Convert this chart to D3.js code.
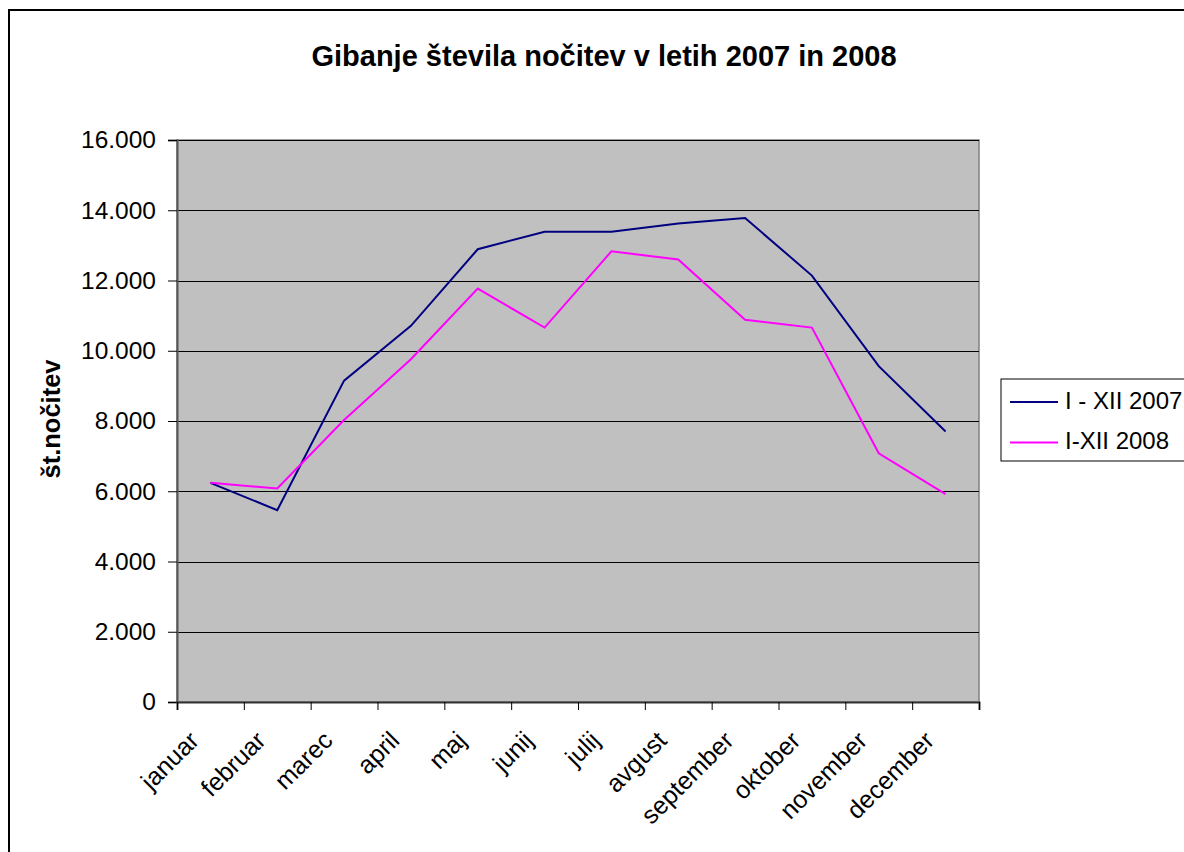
<!DOCTYPE html>
<html>
<head>
<meta charset="utf-8">
<script src="https://cdn.jsdelivr.net/npm/d3@7/dist/d3.min.js"></script>
<style>
  html, body { margin: 0; padding: 0; background: #fff; }
  svg { display: block; font-family: "Liberation Sans", Arial, sans-serif; }
</style>
</head>
<body>
<svg id="chart" width="1184" height="852"></svg>
<script>
const months = ["januar","februar","marec","april","maj","junij","julij","avgust","september","oktober","november","december"];
const series2007 = [6240, 5460, 9150, 10710, 12890, 13390, 13390, 13620, 13780, 12140, 9560, 7700];
const series2008 = [6240, 6080, 8030, 9760, 11770, 10660, 12830, 12600, 10880, 10660, 7080, 5920];
const yTicks = [0, 2000, 4000, 6000, 8000, 10000, 12000, 14000, 16000];
const seriesNames = ["I - XII 2007", "I-XII 2008"];
const seriesColors = ["#000080", "#ff00ff"];
const titleText = "Gibanje števila nočitev v letih 2007 in 2008";
const yAxisTitle = "št.nočitev";

const svg = d3.select("#chart");
const plot = { left: 177, top: 140, right: 979, bottom: 702 };

// outer chart frame
svg.append("rect").attr("x", 9).attr("y", 10).attr("width", 1200).attr("height", 900)
  .attr("fill", "#fff").attr("stroke", "#000").attr("stroke-width", 2);

const x = d3.scaleBand().domain(months).range([plot.left, plot.right]).paddingInner(0).paddingOuter(0);
const y = d3.scaleLinear().domain([0, 16000]).range([plot.bottom, plot.top]);

// plot background
svg.append("rect").attr("x", plot.left).attr("y", plot.top)
  .attr("width", plot.right - plot.left).attr("height", plot.bottom - plot.top)
  .attr("fill", "#c0c0c0").attr("stroke", "#808080").attr("stroke-width", 1.5);

// gridlines
svg.append("g").selectAll("line").data(yTicks.filter(d => d > 0)).join("line")
  .attr("x1", plot.left).attr("x2", plot.right)
  .attr("y1", d => Math.round(y(d)) + 0.5).attr("y2", d => Math.round(y(d)) + 0.5)
  .attr("stroke", "#000").attr("stroke-width", 1);

const fmt = d => d === 0 ? "0" : d3.format(",")(d).replace(/,/g, ".");

// y axis
const yAxis = d3.axisLeft(y).tickValues(yTicks).tickFormat(fmt).tickSize(9).tickPadding(12);
const gy = svg.append("g").attr("transform", `translate(${plot.left},0)`).call(yAxis);
gy.select(".domain").attr("stroke", "#555").attr("stroke-width", 2);
gy.selectAll(".tick line").attr("stroke", "#000");
gy.selectAll(".tick text").attr("font-size", 24.5).attr("fill", "#000")
  .attr("font-family", "'Liberation Sans', Arial, sans-serif");

// x axis (ticks at band edges)
const xEdge = d3.scaleLinear().domain([0, months.length]).range([plot.left, plot.right]);
const gx = svg.append("g").attr("transform", `translate(0,${plot.bottom})`)
  .call(d3.axisBottom(xEdge).tickValues(d3.range(0, months.length + 1)).tickSize(8).tickFormat(""));
gx.select(".domain").attr("stroke", "#333").attr("stroke-width", 2);
gx.selectAll(".tick line").attr("stroke", "#000");

svg.append("g").selectAll("text").data(months).join("text")
  .attr("transform", d => `translate(${x(d) + x.bandwidth() / 2 - 10},${plot.bottom + 40}) rotate(-45)`)
  .attr("text-anchor", "end")
  .attr("font-size", 25)
  .attr("fill", "#000")
  .text(d => d);

// lines
const line = d3.line().x((d, i) => x(months[i]) + x.bandwidth() / 2).y(d => y(d));
[series2007, series2008].forEach((s, k) => {
  svg.append("path").datum(s).attr("d", line)
    .attr("fill", "none").attr("stroke", seriesColors[k]).attr("stroke-width", 2)
    .attr("stroke-linejoin", "miter");
});

// title
svg.append("text").attr("x", 604).attr("y", 65.5).attr("text-anchor", "middle")
  .attr("font-size", 29).attr("font-weight", "bold").attr("fill", "#000").text(titleText);

// y axis title
svg.append("text").attr("transform", `translate(60,419) rotate(-90)`)
  .attr("text-anchor", "middle").attr("font-size", 25.5).attr("font-weight", "bold")
  .attr("fill", "#000").text(yAxisTitle);

// legend
const lg = svg.append("g");
lg.append("rect").attr("x", 1001).attr("y", 379).attr("width", 250).attr("height", 82)
  .attr("fill", "#fff").attr("stroke", "#000").attr("stroke-width", 1);
seriesNames.forEach((n, k) => {
  const yy = 402 + k * 40.5;
  lg.append("line").attr("x1", 1010).attr("x2", 1058).attr("y1", yy).attr("y2", yy)
    .attr("stroke", seriesColors[k]).attr("stroke-width", 2);
  lg.append("text").attr("x", 1065).attr("y", yy + 6.5).attr("font-size", 24)
    .attr("fill", "#000").text(n);
});
</script>
</body>
</html>
